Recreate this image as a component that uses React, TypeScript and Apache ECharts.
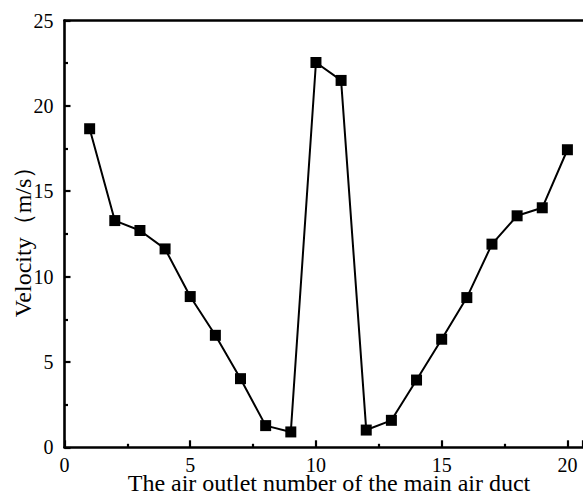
import React, { useEffect, useRef } from "react";
import * as echarts from "echarts";

const outlets = [1, 2, 3, 4, 5, 6, 7, 8, 9, 10, 11, 12, 13, 14, 15, 16, 17, 18, 19, 20];
const velocity = [18.66, 13.28, 12.7, 11.62, 8.83, 6.56, 4.02, 1.27, 0.9, 22.54, 21.49, 1.01, 1.58, 3.94, 6.33, 8.77, 11.9, 13.56, 14.03, 17.43];
const xTicks = [0, 5, 10, 15, 20];
const yTicks = [0, 5, 10, 15, 20, 25];
const xTitle = "The air outlet number of the main air duct";
const yTitle = "Velocity（m/s）";

const FONT = "Liberation Serif";

export default function App() {
  const ref = useRef<HTMLDivElement>(null);
  useEffect(() => {
    if (!ref.current) return;
    const chart = echarts.init(ref.current, undefined, { renderer: "svg" });
    const data = outlets.map((x, i) => [x, velocity[i]]);
    chart.setOption({
      animation: false,
      backgroundColor: "#ffffff",
      grid: { left: 64.5, top: 20.5, right: 0, bottom: 48.7, containLabel: false },
      xAxis: [
        {
          type: "value",
          min: 0,
          max: 20.62,
          interval: 5,
          position: "bottom",
          axisLine: { show: true, onZero: false, lineStyle: { color: "#000", width: 2.6 } },
          axisTick: { show: true, inside: true, length: 7, lineStyle: { color: "#000", width: 2.2 } },
          minorTick: { show: true, splitNumber: 2, length: 3.5, lineStyle: { color: "#000", width: 2.2 } },
          splitLine: { show: false },
          axisLabel: {
            show: true,
            margin: 10,
            lineHeight: 16,
            showMaxLabel: false,
            color: "#000",
            fontFamily: FONT,
            fontSize: 20,
            formatter: (v: number) => (xTicks.includes(v) ? String(v) : ""),
          },
        },
        {
          type: "value",
          min: 0,
          max: 20.62,
          position: "top",
          axisLine: { show: true, onZero: false, lineStyle: { color: "#000", width: 2.6 } },
          axisTick: { show: false },
          axisLabel: { show: false },
          splitLine: { show: false },
        },
      ],
      yAxis: {
        type: "value",
        min: 0,
        max: 25,
        interval: 5,
        axisLine: { show: true, onZero: false, lineStyle: { color: "#000", width: 2.6 } },
        axisTick: { show: true, inside: true, length: 6, lineStyle: { color: "#000", width: 2.2 } },
        minorTick: { show: true, splitNumber: 2, length: 3.5, lineStyle: { color: "#000", width: 2.2 } },
        splitLine: { show: false },
        axisLabel: {
          margin: 11,
          color: "#000",
          fontFamily: FONT,
          fontSize: 20,
          formatter: (v: number) => (yTicks.includes(v) ? String(v) : ""),
        },
      },
      graphic: [
        {
          type: "text",
          x: 329,
          y: 483,
          style: {
            text: xTitle,
            textAlign: "center",
            textVerticalAlign: "middle",
            lineHeight: 18,
            fill: "#000",
            fontFamily: FONT,
            fontSize: 24,
          },
        },
        {
          type: "text",
          x: 23,
          y: 236,
          rotation: Math.PI / 2,
          style: {
            text: yTitle,
            textAlign: "center",
            textVerticalAlign: "middle",
            fill: "#000",
            fontFamily: FONT,
            fontSize: 24,
          },
        },
      ],
      series: [
        {
          type: "line",
          data,
          xAxisIndex: 0,
          symbol: "rect",
          symbolSize: 11,
          itemStyle: { color: "#000" },
          lineStyle: { color: "#000", width: 2 },
        },
      ],
    });
    return () => chart.dispose();
  }, []);
  return <div ref={ref} style={{ position: "fixed", left: 0, top: 0, width: 583, height: 496 }} />;
}
